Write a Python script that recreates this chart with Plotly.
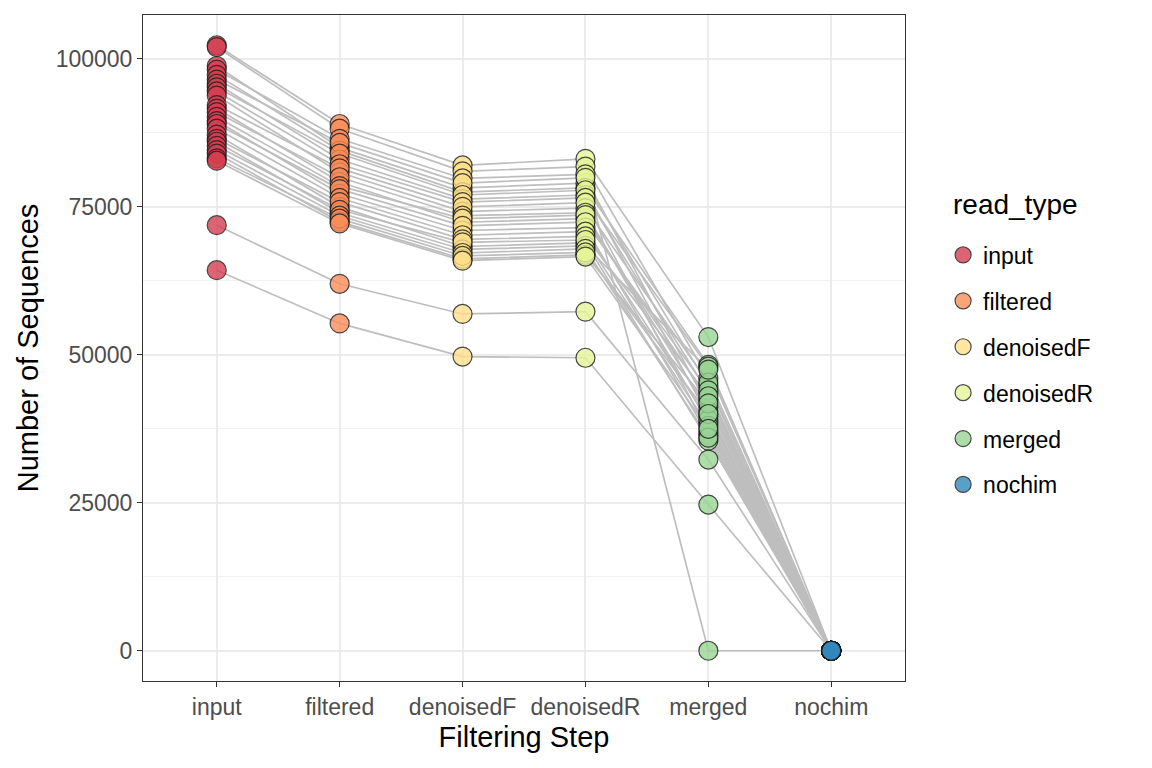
#!/usr/bin/env python3
# read tracking plot: number of sequences kept at each filtering step

import plotly.graph_objects as go

# --- data: one entry per sample, in the same order in every list ---
steps = ["input", "filtered", "denoisedF", "denoisedR", "merged", "nochim"]

input_reads = [102300, 102000, 98800, 98200, 97300, 96500, 95800, 95200, 94500,
               93800, 92200, 91600, 91000, 90200, 89500, 89000, 88200, 87200,
               86500, 86000, 85300, 84600, 84000, 83200, 82800, 71900, 64300]
filtered = [89000, 88200, 85000, 86500, 84500, 85800, 83000, 84000, 82200,
            80800, 81500, 79200, 80000, 78500, 77200, 78000, 76500, 75000,
            75800, 74000, 74500, 73500, 72500, 73000, 72200, 62000, 55300]
denoisedF = [82000, 81000, 78200, 79800, 77500, 79000, 76300, 77000, 75800,
             74200, 75000, 72400, 73500, 73000, 71000, 71800, 70200, 68300,
             69500, 67800, 69000, 67200, 66200, 66700, 65900, 56900, 49700]
denoisedR = [83100, 81800, 79000, 80500, 78200, 79900, 77000, 77800, 76500,
             74800, 75700, 73000, 74000, 73600, 71500, 72400, 70800, 68900,
             70000, 68400, 69400, 67900, 66900, 67300, 66600, 57300, 49500]
merged = [53000, 46000, 44800, 0, 48300, 41200, 43500, 39600, 48000,
          45300, 37000, 42400, 38500, 40500, 36400, 44000, 39000, 35500,
          43000, 47500, 38000, 36000, 41800, 40000, 37500, 32300, 24700]
nochim = [0, 0, 0, 0, 0, 0, 0, 0, 0,
          0, 0, 0, 0, 0, 0, 0, 0, 0,
          0, 0, 0, 0, 0, 0, 0, 0, 0]

step_colors = ["#D53E4F", "#FC8D59", "#FEE08B", "#E6F598", "#99D594", "#3288BD"]


def main():
    values_by_step = [input_reads, filtered, denoisedF, denoisedR, merged, nochim]
    n_samples = len(input_reads)

    fig = go.Figure()

    # --- 1. grey line per sample (one trace, None between samples) ---
    lx, ly = [], []
    for i in range(n_samples):
        for step, vals in zip(steps, values_by_step):
            lx.append(step)
            ly.append(vals[i])
        lx.append(None)
        ly.append(None)
    fig.add_trace(go.Scatter(
        x=lx, y=ly, mode="lines",
        line=dict(color="#bebebe", width=1.7),
        showlegend=False, hoverinfo="skip"
    ))

    # --- 2. points, one trace per read_type ---
    for k, (step, vals) in enumerate(zip(steps, values_by_step)):
        fig.add_trace(go.Scatter(
            x=[step] * len(vals), y=vals, mode="markers",
            name=step, legendgroup=step,
            marker=dict(size=19, color=step_colors[k], opacity=0.8,
                        line=dict(color="#1a1a1a", width=1.2)),
        ))

    # page body adds an 8px offset, so the figure is 8px smaller
    grid = "#ebebeb"
    fig.update_layout(
        width=1144, height=760,
        plot_bgcolor="white", paper_bgcolor="white",
        font=dict(family="Liberation Sans, Arial, sans-serif", color="black"),
        margin=dict(l=135, r=247, t=7, b=87),
        legend=dict(
            font=dict(size=23),
            x=1.05, xanchor="left", y=0.467, yanchor="middle",
            tracegroupgap=13, itemsizing="trace",
        ),
        # legend title as an annotation so the gap above the keys can be set
        annotations=[dict(
            text="read_type", xref="paper", yref="paper",
            x=1.061, y=0.715, xanchor="left", yanchor="middle",
            showarrow=False, font=dict(size=28),
        )],
    )
    fig.update_xaxes(
        categoryorder="array", categoryarray=steps,
        range=[-0.6, 5.6],
        title=dict(text="Filtering Step", font=dict(size=29), standoff=8),
        tickfont=dict(size=23, color="#4d4d4d"),
        ticks="outside", ticklen=5, tickcolor="#333333",
        showgrid=True, gridcolor=grid, gridwidth=2,
        showline=True, linecolor="#333333", mirror=True, linewidth=1,
        zeroline=False,
    )
    fig.update_yaxes(
        range=[-5115, 107415],
        tickvals=[0, 25000, 50000, 75000, 100000],
        ticktext=["0", "25000", "50000", "75000", "100000"],
        title=dict(text="Number of Sequences", font=dict(size=29), standoff=8),
        tickfont=dict(size=23, color="#4d4d4d"),
        ticks="outside", ticklen=5, tickcolor="#333333",
        showgrid=True, gridcolor=grid, gridwidth=2,
        minor=dict(tickvals=[12500, 37500, 62500, 87500], showgrid=True,
                   gridcolor="#f2f2f2", gridwidth=1, ticks=""),
        showline=True, linecolor="#333333", mirror=True, linewidth=1,
        zeroline=False,
    )

    fig.write_html("out.html")


if __name__ == "__main__":
    main()
